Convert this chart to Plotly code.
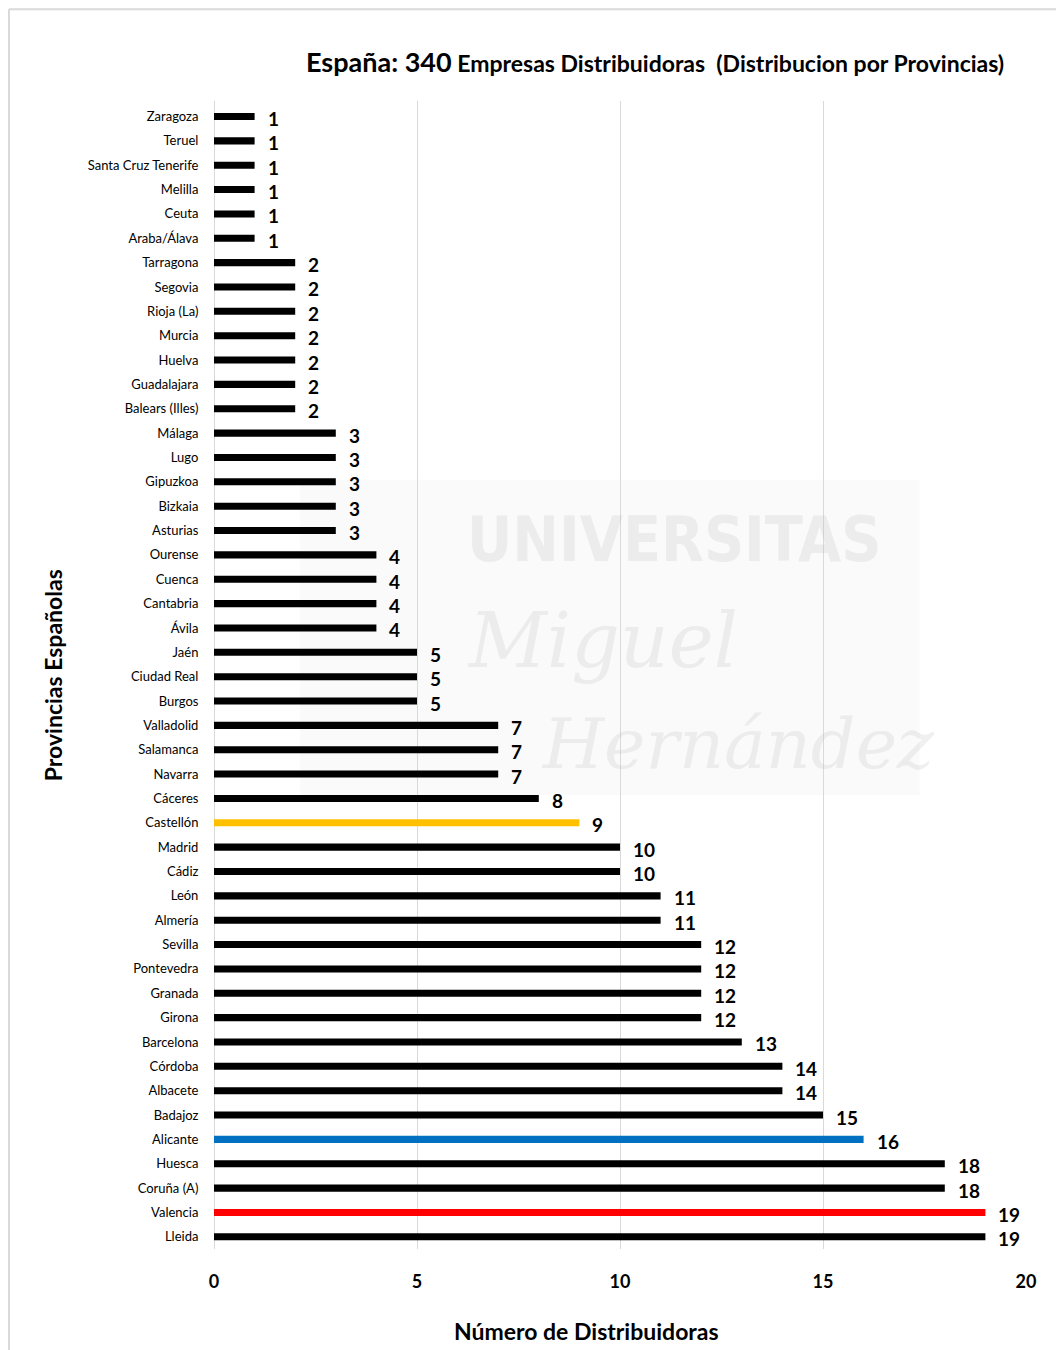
import plotly.graph_objects as go

provincias = ["Zaragoza", "Teruel", "Santa Cruz Tenerife", "Melilla", "Ceuta", "Araba/Álava",
              "Tarragona", "Segovia", "Rioja (La)", "Murcia", "Huelva", "Guadalajara", "Balears (Illes)",
              "Málaga", "Lugo", "Gipuzkoa", "Bizkaia", "Asturias",
              "Ourense", "Cuenca", "Cantabria", "Ávila",
              "Jaén", "Ciudad Real", "Burgos",
              "Valladolid", "Salamanca", "Navarra", "Cáceres", "Castellón",
              "Madrid", "Cádiz", "León", "Almería",
              "Sevilla", "Pontevedra", "Granada", "Girona", "Barcelona",
              "Córdoba", "Albacete", "Badajoz", "Alicante", "Huesca", "Coruña (A)",
              "Valencia", "Lleida"]
distribuidoras = [1, 1, 1, 1, 1, 1,
                  2, 2, 2, 2, 2, 2, 2,
                  3, 3, 3, 3, 3,
                  4, 4, 4, 4,
                  5, 5, 5,
                  7, 7, 7, 8, 9,
                  10, 10, 11, 11,
                  12, 12, 12, 12, 13,
                  14, 14, 15, 16, 18, 18,
                  19, 19]
destacados = {"Castellón": "#FFC000", "Alicante": "#0070C0", "Valencia": "#FF0000"}
colores = [destacados.get(p, "#000000") for p in provincias]

FONT = "Lato, 'Open Sans', sans-serif"

fig = go.Figure()
fig.add_trace(go.Bar(
    x=distribuidoras, y=provincias, orientation="h",
    marker=dict(color=colores, line=dict(width=0)),
    hoverinfo="x+y",
))

annotations = []
for p, v in zip(provincias, distribuidoras):
    annotations.append(dict(
        x=v, y=p, xref="x", yref="y", text=str(v), showarrow=False,
        xanchor="left", yanchor="middle", xshift=11, yshift=-2,
        font=dict(family=FONT, size=19, color="#000000", weight="bold"),
    ))

# title
annotations.append(dict(
    x=0.543, y=1.034, xref="paper", yref="paper", showarrow=False,
    xanchor="center", yanchor="middle",
    text="<b><span style='font-size:27px'>España: 340</span> Empresas Distribuidoras  (Distribucion por Provincias)</b>",
    font=dict(family=FONT, size=23, color="#000000"),
))
# y axis title
annotations.append(dict(
    x=-0.198, y=0.5, xref="paper", yref="paper", showarrow=False, textangle=-90,
    xanchor="center", yanchor="middle",
    text="<b>Provincias Españolas</b>",
    font=dict(family=FONT, size=23, color="#000000"),
))
# x axis title
annotations.append(dict(
    x=0.459, y=-0.0714, xref="paper", yref="paper", showarrow=False,
    xanchor="center", yanchor="middle",
    text="<b>Número de Distribuidoras</b>",
    font=dict(family=FONT, size=23, color="#000000"),
))
# watermark
wm = "rgba(185,185,185,0.22)"
annotations += [
    dict(x=0.309, y=0.618, xref="paper", yref="paper", showarrow=False, text="<b>UNIVERSITAS</b>",
         xanchor="left", yanchor="middle",
         font=dict(family="DejaVu Sans Condensed, sans-serif", size=62, color=wm)),
    dict(x=0.309, y=0.530, xref="paper", yref="paper", showarrow=False, text="<i>Miguel</i>",
         xanchor="left", yanchor="middle", font=dict(family="DejaVu Serif, serif", size=76, color=wm)),
    dict(x=0.40, y=0.440, xref="paper", yref="paper", showarrow=False, text="<i>Hernández</i>",
         xanchor="left", yanchor="middle", font=dict(family="DejaVu Serif, serif", size=70, color=wm)),
]

fig.update_layout(
    width=1056, height=1342,
    margin=dict(l=206, r=38, t=93, b=101),
    paper_bgcolor="#ffffff", plot_bgcolor="#ffffff",
    bargap=0.71,
    showlegend=False,
    annotations=annotations,
    font=dict(family=FONT, color="#000000"),
    shapes=[
        dict(type="rect", xref="paper", yref="paper", x0=0.106, x1=0.869, y0=0.3955, y1=0.670,
             fillcolor="rgba(0,0,0,0.018)", line=dict(width=0), layer="below"),
        dict(type="line", xref="paper", yref="paper", x0=-0.2525, x1=-0.2525, y0=-0.09, y1=1.080,
             line=dict(color="#d9d9d9", width=2)),
        dict(type="line", xref="paper", yref="paper", x0=-0.2525, x1=1.05, y0=1.080, y1=1.080,
             line=dict(color="#d9d9d9", width=2)),
    ],
)
fig.update_xaxes(
    range=[0, 20], dtick=5, tick0=0,
    showgrid=True, gridcolor="#d9d9d9", gridwidth=1,
    zeroline=True, zerolinecolor="#d9d9d9", zerolinewidth=1,
    showline=False, ticks="",
    ticklabelstandoff=20,
    tickfont=dict(family=FONT, size=18, color="#000000", weight="bold"),
)
fig.update_yaxes(
    autorange="reversed", showgrid=False, showline=False, zeroline=False,
    ticks="outside", ticklen=12, tickcolor="rgba(0,0,0,0)",
    tickfont=dict(family=FONT, size=13, color="#000000"),
)

fig.write_html("out.html")
